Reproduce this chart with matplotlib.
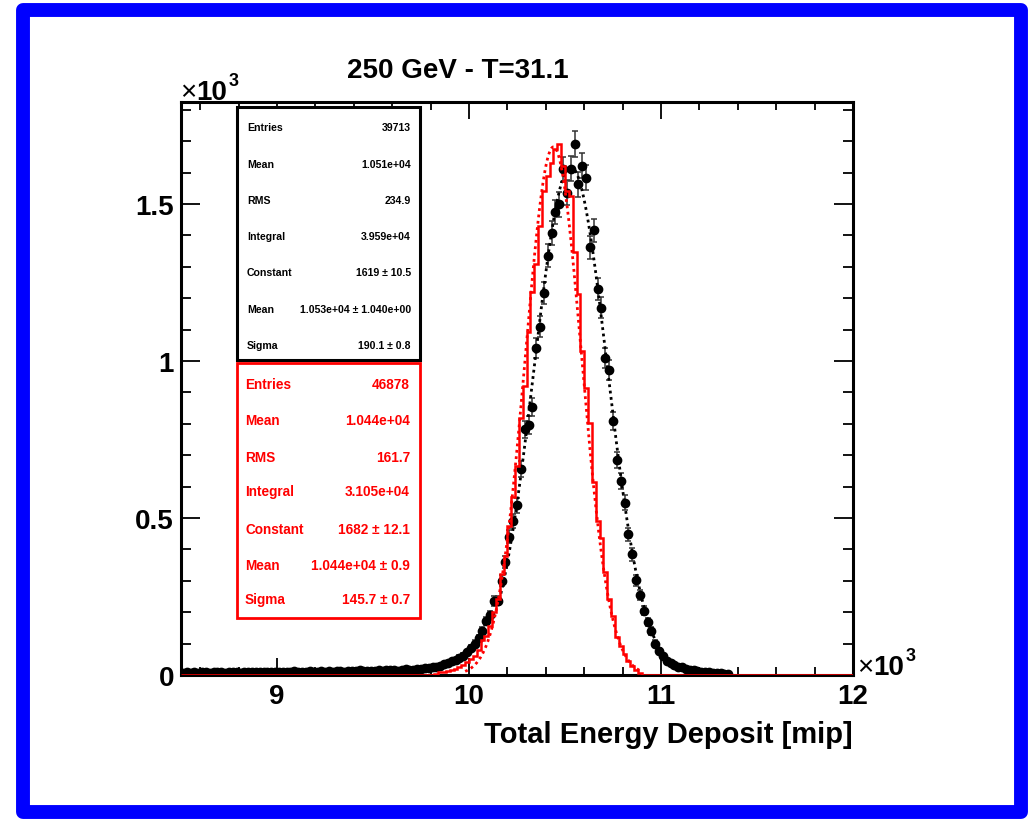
import numpy as np
import matplotlib
matplotlib.use("Agg")
import matplotlib.pyplot as plt
from matplotlib.patches import Rectangle
from matplotlib.ticker import MultipleLocator, FuncFormatter

plt.rcParams["font.family"] = ["Liberation Sans", "DejaVu Sans"]
plt.rcParams["font.weight"] = "bold"

# ---- histogram binning (mip) ----
BIN_LO, BIN_HI, BIN_W = 8500, 12000, 20

# data run: counts per 20-mip bin, first bin centre 8510
black_first_center = 8510
black_counts = [
    7, 9, 6, 8, 7, 10, 8, 6, 9, 8,
    8, 7, 10, 9, 8, 6, 9, 10, 8, 9,
    9, 8, 11, 9, 10, 8, 11, 9, 10, 12,
    10, 11, 9, 12, 11, 10, 13, 11, 12, 10,
    12, 13, 11, 14, 12, 13, 15, 12, 14, 13,
    14, 15, 13, 16, 15, 17, 14, 16, 18, 17,
    17, 19, 20, 21, 23, 25, 27, 30, 34, 38,
    43, 48, 55, 62, 72, 85, 100, 117, 140, 172,
    190, 235, 237, 300, 360, 440, 490, 540, 657, 782,
    797, 853, 1042, 1109, 1217, 1335, 1407, 1474, 1499, 1611,
    1536, 1613, 1690, 1563, 1622, 1583, 1362, 1416, 1228, 1170,
    1009, 972, 808, 685, 618, 549, 448, 384, 301, 255,
    205, 170, 140, 100, 78, 60, 45, 37, 32, 27,
    24, 20, 17, 15, 13, 11, 9, 8, 7, 6,
    5, 4, 2,
]

# simulation: counts per 20-mip bin, first non-empty bin centre 9830
red_first_center = 9830
red_counts = [
    4, 8, 10, 13, 17, 20, 25, 31, 40, 50,
    61, 80, 110, 125, 157, 200, 242, 322, 380, 475,
    566, 667, 820, 921, 1091, 1219, 1309, 1431, 1542, 1590,
    1630, 1675, 1690, 1620, 1542, 1527, 1346, 1215, 1031, 914,
    803, 615, 490, 435, 328, 242, 187, 120, 92, 68,
    46, 30, 15, 7,
]

# Gaussian fit results (Constant, Mean, Sigma) and fit ranges
black_fit = (1619.0, 1.053e4, 190.1)
red_fit = (1682.0, 1.044e4, 145.7)
black_fit_range = (10150, 11000)
red_fit_range = (9980, 10900)

title = "250 GeV - T=31.1"
xlabel = "Total Energy Deposit [mip]"

black_stats = [
    ("Entries", "39713"),
    ("Mean", "1.051e+04"),
    ("RMS", "234.9"),
    ("Integral", "3.959e+04"),
    ("Constant", "1619 \u00b1 10.5"),
    ("Mean", "1.053e+04 \u00b1 1.040e+00"),
    ("Sigma", "190.1 \u00b1 0.8"),
]
red_stats = [
    ("Entries", "46878"),
    ("Mean", "1.044e+04"),
    ("RMS", "161.7"),
    ("Integral", "3.105e+04"),
    ("Constant", "1682 \u00b1 12.1"),
    ("Mean", "1.044e+04 \u00b1 0.9"),
    ("Sigma", "145.7 \u00b1 0.7"),
]

# ---- figure ----
W, H = 1028, 820
fig = plt.figure(figsize=(W / 100, H / 100), dpi=100)


def fx(px):
    return px / W


def fy(py):
    return 1 - py / H


ax = fig.add_axes([fx(181), fy(676), (853 - 181) / W, (676 - 103) / H])

nbins = (BIN_HI - BIN_LO) // BIN_W
edges = BIN_LO + BIN_W * np.arange(nbins + 1)
centers = 0.5 * (edges[:-1] + edges[1:])

black_full = np.zeros(nbins)
i0 = int(round((black_first_center - BIN_LO - BIN_W / 2) / BIN_W))
black_full[i0:i0 + len(black_counts)] = black_counts

red_full = np.zeros(nbins)
j0 = int(round((red_first_center - BIN_LO - BIN_W / 2) / BIN_W))
red_full[j0:j0 + len(red_counts)] = red_counts

# data points with statistical errors
nz = black_full > 0
ax.errorbar(centers[nz], black_full[nz], yerr=np.sqrt(black_full[nz]),
            fmt="o", color="black", ms=6.0, ecolor="#333333",
            elinewidth=1.1, capsize=2.4, capthick=1.1, zorder=3)


def gauss(x, c, m, s):
    return c * np.exp(-0.5 * ((x - m) / s) ** 2)


xb = np.linspace(*black_fit_range, 400)
ax.plot(xb, gauss(xb, *black_fit), color="black", lw=2.0,
        linestyle=(0, (1.0, 1.3)), zorder=4)

# simulation histogram and its fit
ax.stairs(red_full, edges, color="#ff0000", lw=1.8, zorder=5)
xr = np.linspace(*red_fit_range, 400)
ax.plot(xr, gauss(xr, *red_fit), color="#ff0000", lw=2.0,
        linestyle=(0, (1.0, 1.3)), zorder=5)

ax.set_xlim(BIN_LO, BIN_HI)
ax.set_ylim(0, 1825)

ax.xaxis.set_major_locator(MultipleLocator(1000))
ax.xaxis.set_minor_locator(MultipleLocator(200))
ax.yaxis.set_major_locator(MultipleLocator(500))
ax.yaxis.set_minor_locator(MultipleLocator(100))
fmt = FuncFormatter(lambda v, p: "%g" % (v / 1000.0))
ax.xaxis.set_major_formatter(fmt)
ax.yaxis.set_major_formatter(fmt)

ax.tick_params(axis="both", which="both", direction="in",
               top=True, right=True, width=1.3, colors="black")
ax.tick_params(axis="x", which="major", length=12, pad=6, labelsize=20)
ax.tick_params(axis="x", which="minor", length=6)
ax.tick_params(axis="y", which="major", length=14, pad=5, labelsize=20)
ax.tick_params(axis="y", which="minor", length=7)
for lab in ax.get_xticklabels() + ax.get_yticklabels():
    lab.set_fontweight("bold")
for sp in ax.spines.values():
    sp.set_linewidth(2.2)

# titles and multipliers
fig.text(fx(458), fy(71), title, ha="center", va="center",
         fontsize=20, fontweight="bold")
fig.text(fx(853), fy(735), xlabel, ha="right", va="center",
         fontsize=21, fontweight="bold")
fig.text(fx(180), fy(100), "\u00d7", ha="left", va="baseline",
         fontsize=20, fontweight="normal")
fig.text(fx(196), fy(100), "10", ha="left", va="baseline",
         fontsize=20, fontweight="bold")
fig.text(fx(229), fy(86), "3", ha="left", va="baseline",
         fontsize=13, fontweight="bold")
fig.text(fx(857), fy(675), "\u00d7", ha="left", va="baseline",
         fontsize=20, fontweight="normal")
fig.text(fx(873), fy(675), "10", ha="left", va="baseline",
         fontsize=20, fontweight="bold")
fig.text(fx(906), fy(661), "3", ha="left", va="baseline",
         fontsize=13, fontweight="bold")


def stat_box(x0, x1, y0, y1, rows, row_y, lab_x, val_x, color, size, lw):
    fig.add_artist(Rectangle((fx(x0), fy(y1)), (x1 - x0) / W, (y1 - y0) / H,
                             transform=fig.transFigure, fill=True,
                             facecolor="white", edgecolor=color, lw=lw,
                             zorder=10))
    for (name, val), yy in zip(rows, row_y):
        fig.text(fx(lab_x), fy(yy), name, ha="left", va="center",
                 color=color, fontsize=size, fontweight="bold", zorder=11)
        fig.text(fx(val_x), fy(yy), val, ha="right", va="center",
                 color=color, fontsize=size, fontweight="bold", zorder=11)


stat_box(237, 420, 108, 361, black_stats,
         [128, 165, 201, 237, 273, 310, 346], 247, 411, "black", 7.6, 2.2)
stat_box(237, 420, 364, 619, red_stats,
         [385, 421, 458, 492, 530, 566, 600], 245, 410, "#ff0000", 9.8, 2.0)

# canvas frame
fig.add_artist(Rectangle((fx(23), fy(813)), (1020.5 - 23) / W, (813 - 10.5) / H,
                         transform=fig.transFigure, fill=False,
                         edgecolor="#0000ff", lw=10, joinstyle="round",
                         zorder=20))

fig.savefig("out.png", dpi=100)
